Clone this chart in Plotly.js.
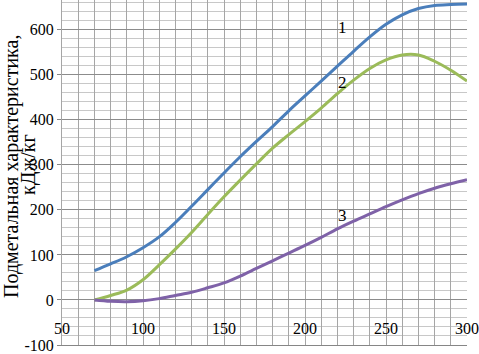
<!DOCTYPE html>
<html>
<head>
<meta charset="utf-8">
<script src="https://cdn.plot.ly/plotly-3.0.1.min.js"></script>
<style>html,body{margin:0;padding:0;background:#fff;}#chart{width:479px;height:354px;}</style>
</head>
<body>
<div id="chart"></div>
<script>
var xValues = [70, 80, 90, 100, 110, 120, 130, 140, 150, 160, 170, 180, 190, 200, 210, 220, 230, 240, 250, 260, 270, 280, 290, 300];
var series1 = [65, 80, 96, 116, 140, 172, 208, 245, 282, 318, 352, 385, 420, 453, 486, 519, 552, 584, 612, 633, 647, 654, 656, 657];
var series2 = [0, 10, 22, 45, 78, 113, 150, 190, 229, 266, 302, 337, 367, 396, 426, 458, 488, 514, 533, 544, 544, 530, 510, 486];
var series3 = [0, -3, -4, -2, 3, 10, 17, 27, 38, 53, 70, 87, 104, 121, 139, 158, 175, 191, 207, 222, 236, 248, 258, 267];
var seriesNames = ["1", "2", "3"];
var seriesLabelPos = [[223, 605], [223, 482], [223, 188]];
var xTickLabels = [50, 100, 150, 200, 250, 300];
var yTickLabels = [-100, 0, 100, 200, 300, 400, 500, 600];
var yTitleLines = ["Подметальная характеристика,", "кДж/кг"];

var colors = ["#4A7EBB", "#9BBB59", "#7F62A8"];
var allSeries = [series1, series2, series3];

var traces = allSeries.map(function (s, i) {
  return {
    x: xValues, y: s, type: "scatter", mode: "lines",
    line: {color: colors[i], width: 3, shape: "spline", smoothing: 1},
    showlegend: false, hoverinfo: "none"
  };
});

var fontFam = "Liberation Serif";
var annotations = [];
xTickLabels.forEach(function (v) {
  annotations.push({
    x: v, y: 0, xref: "x", yref: "y", text: String(v), showarrow: false,
    xanchor: "center", yanchor: "middle", yshift: -29,
    font: {family: fontFam, size: 16, color: "#000"}
  });
});
seriesNames.forEach(function (n, i) {
  annotations.push({
    x: seriesLabelPos[i][0], y: seriesLabelPos[i][1], xref: "x", yref: "y",
    text: n, showarrow: false, xanchor: "center", yanchor: "middle",
    font: {family: fontFam, size: 17, color: "#000"}
  });
});
annotations.push({
  x: 0, y: 0.516, xref: "paper", yref: "paper", xshift: -50, text: yTitleLines[0],
  textangle: -90, showarrow: false, xanchor: "center", yanchor: "middle",
  font: {family: fontFam, size: 20, color: "#000"}
});
annotations.push({
  x: 0, y: 0.522, xref: "paper", yref: "paper", xshift: -33, text: yTitleLines[1],
  textangle: -90, showarrow: false, xanchor: "center", yanchor: "middle",
  font: {family: fontFam, size: 20, color: "#000"}
});

var layout = {
  width: 479, height: 354,
  margin: {l: 62, r: 12, t: 0, b: 9},
  paper_bgcolor: "#fff", plot_bgcolor: "#fff",
  font: {family: fontFam},
  xaxis: {
    range: [50, 300], dtick: 10, tick0: 50, showticklabels: false,
    showgrid: true, gridcolor: "#a6a6a6", gridwidth: 1,
    zeroline: false, showline: true, linecolor: "#868686", linewidth: 1,
    ticks: "", mirror: false
  },
  yaxis: {
    range: [-100, 666], tickvals: yTickLabels, ticktext: yTickLabels.map(String),
    showgrid: true, gridcolor: "#8c8c8c", gridwidth: 1,
    minor: {dtick: 20, tick0: 0, showgrid: true, gridcolor: "#c8c8c8", gridwidth: 1},
    zeroline: false, showline: true, linecolor: "#a6a6a6", linewidth: 1,
    ticks: "outside", ticklen: 4, tickcolor: "#868686",
    ticklabeloverflow: "allow",
    tickfont: {family: fontFam, size: 16, color: "#000"}
  },
  annotations: annotations
};

Plotly.newPlot("chart", traces, layout, {staticPlot: true, displayModeBar: false});
</script>
</body>
</html>
